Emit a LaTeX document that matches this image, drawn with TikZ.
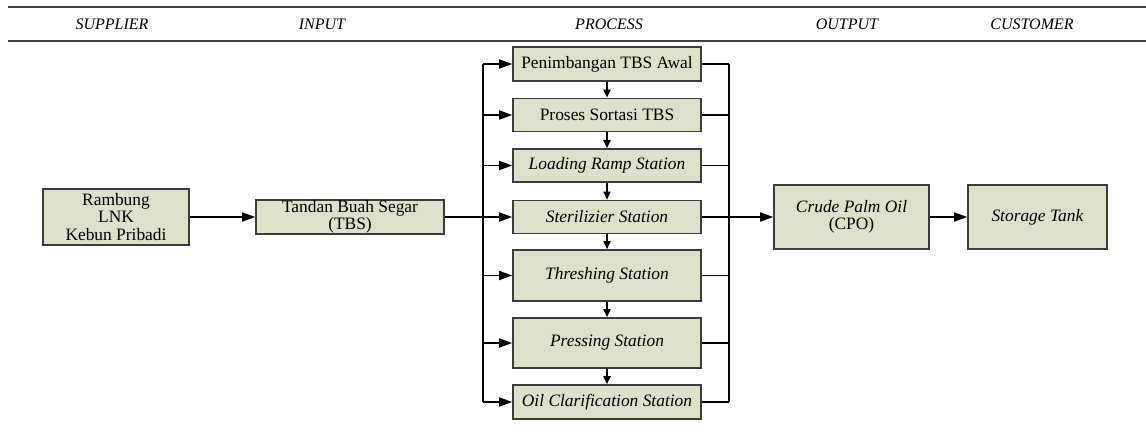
\documentclass[tikz,border=0pt]{standalone}
\usepackage{fontspec}
\setmainfont{Liberation Serif}
\usepackage{tikz}
\usetikzlibrary{arrows.meta}
\definecolor{boxfill}{RGB}{221,224,202}
\definecolor{boxline}{RGB}{60,60,60}

\begin{document}
\begin{tikzpicture}[x=0.5pt,y=-0.5pt,
  box/.style={draw=boxline, fill=boxfill, line width=0.8pt, align=center,
    inner sep=0pt, font=\fontsize{8.7}{8.6}\selectfont},
  head/.style={font=\fontsize{8}{9}\selectfont\itshape},
  arr/.style={-{Triangle[length=6.5pt,width=4.5pt]}, line width=0.85pt},
  sarr/.style={-{Triangle[length=4pt,width=3.5pt]}, line width=0.85pt},
  line/.style={line width=0.85pt}]
  \useasboundingbox (0,0) rectangle (1146,434);

  % header
  \draw[line width=0.75pt, gray!50!black] (8,7) -- (1146,7);
  \draw[line width=0.75pt, gray!50!black] (8,41) -- (1146,41);
  \node[head] (hsup) at (112,24) {SUPPLIER};
  \node[head] (hin) at (322,24) {INPUT};
  \node[head] (hpro) at (609,24) {PROCESS};
  \node[head] (hout) at (847,24) {OUTPUT};
  \node[head] (hcus) at (1032,24) {CUSTOMER};

  % supplier and input
  \node[box, minimum width=73pt, minimum height=28pt] (sup) at (116,217) {Rambung\\LNK\\Kebun Pribadi};
  \node[box, minimum width=94pt, minimum height=17pt] (tbs) at (350,217) {Tandan Buah Segar\\(TBS)};

  % process
  \node[box, minimum width=94pt, minimum height=17pt] (p1) at (607,64) {Penimbangan TBS Awal};
  \node[box, minimum width=94pt, minimum height=16.5pt] (p2) at (607,115) {Proses Sortasi TBS};
  \node[box, minimum width=94pt, minimum height=16.5pt] (p3) at (607,165.5) {\textit{Loading Ramp Station}};
  \node[box, minimum width=94pt, minimum height=16.5pt] (p4) at (607,217) {\textit{Sterilizier Station}};
  \node[box, minimum width=94pt, minimum height=25.5pt] (p5) at (607,275.5) {\textit{Threshing Station}};
  \node[box, minimum width=94pt, minimum height=25pt] (p6) at (607,343) {\textit{Pressing Station}};
  \node[box, minimum width=94pt, minimum height=17pt] (p7) at (607,402) {\textit{Oil Clarification Station}};

  % output and customer
  \node[box, minimum width=77.5pt, minimum height=32pt] (cpo) at (851.5,217) {\textit{Crude Palm Oil}\\(CPO)};
  \node[box, minimum width=69.5pt, minimum height=32pt] (tank) at (1037.5,217) {\textit{Storage Tank}};

  \coordinate (lbus) at (483,0);
  \coordinate (rbus) at (729,0);

  \draw[arr] (sup) -- (tbs);
  \draw[line] (tbs.east) -- (tbs.east -| lbus);
  \draw[line] (p1.west -| lbus) -- (p7.west -| lbus);
  \draw[line] (p1.east -| rbus) -- (p7.east -| rbus);
  \foreach \p in {p1,p2,p3,p4,p5,p6,p7} {
    \draw[arr] (\p.west -| lbus) -- (\p.west);
    \draw[line] (\p.east) -- (\p.east -| rbus);
  }
  \draw[sarr] (p1) -- (p2);
  \draw[sarr] (p2) -- (p3);
  \draw[sarr] (p3) -- (p4);
  \draw[sarr] (p4) -- (p5);
  \draw[sarr] (p5) -- (p6);
  \draw[sarr] (p6) -- (p7);
  \draw[arr] (p4.east) -- (cpo.west |- p4.east);
  \draw[arr] (cpo) -- (tank);
\end{tikzpicture}
\end{document}
